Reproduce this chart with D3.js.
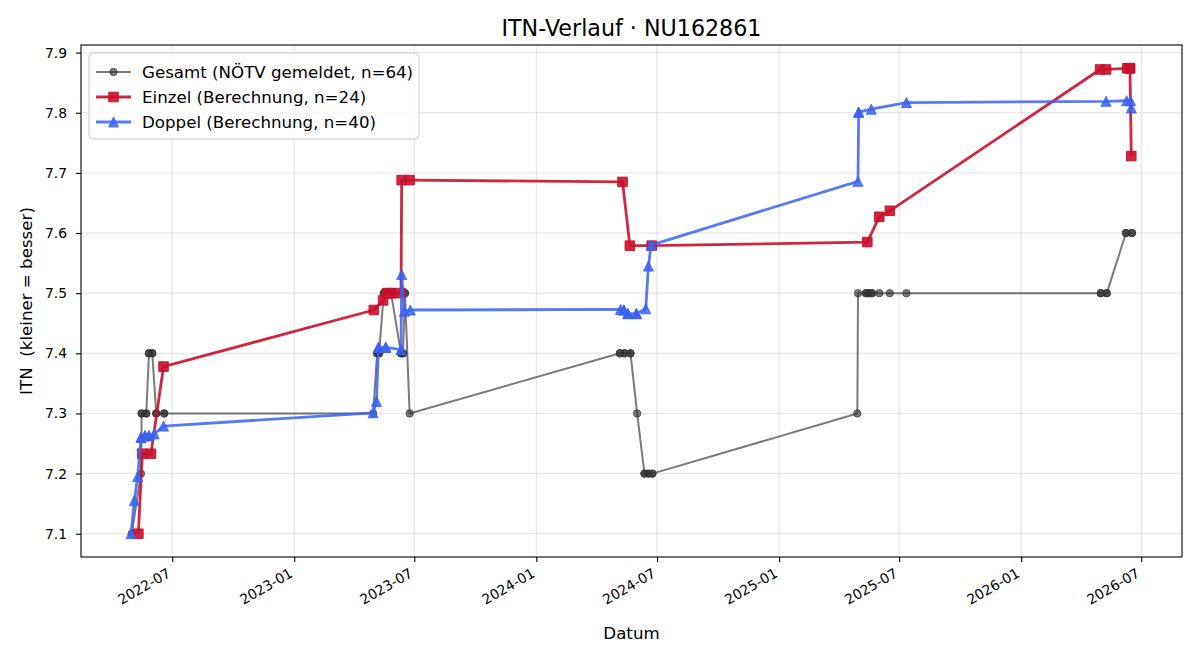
<!DOCTYPE html>
<html>
<head>
<meta charset="utf-8">
<script src="https://cdn.jsdelivr.net/npm/d3@7"></script>
<style>
    body { margin: 0; background: #fff; }
    svg, svg text { font-family: "DejaVu Sans", sans-serif; }
</style>
</head>
<body>
<div id="chart"></div>
<script>
// Gesamt (NÖTV gemeldet)
const gesamtDates = [
    "2022-05-01", "2022-05-15", "2022-05-16", "2022-05-16", "2022-05-23", "2022-05-23", "2022-05-27", "2022-05-27",
    "2022-06-01", "2022-06-01", "2022-06-07", "2022-06-07", "2022-06-19", "2022-06-19",
    "2023-04-30", "2023-05-06", "2023-05-06", "2023-05-09", "2023-05-09", "2023-05-16", "2023-05-16", "2023-05-21",
    "2023-05-21", "2023-05-27", "2023-05-27", "2023-06-11", "2023-06-11", "2023-06-14", "2023-06-14", "2023-06-17",
    "2023-06-17", "2023-06-24",
    "2024-05-06", "2024-05-06", "2024-05-13", "2024-05-13", "2024-05-22", "2024-05-22", "2024-06-01", "2024-06-12",
    "2024-06-12", "2024-06-18", "2024-06-18", "2024-06-24", "2024-06-24",
    "2025-04-29", "2025-04-30", "2025-05-12", "2025-05-12", "2025-05-16", "2025-05-16", "2025-05-21", "2025-05-21",
    "2025-06-01", "2025-06-17", "2025-07-12",
    "2026-05-01", "2026-05-01", "2026-05-10", "2026-05-10", "2026-06-08", "2026-06-08", "2026-06-17", "2026-06-17"
];
const gesamtValues = [
    7.1, 7.2, 7.3, 7.3, 7.3, 7.3, 7.4, 7.4,
    7.4, 7.4, 7.3, 7.3, 7.3, 7.3,
    7.3, 7.4, 7.4, 7.4, 7.4, 7.5, 7.5, 7.5,
    7.5, 7.5, 7.5, 7.4, 7.4, 7.4, 7.4, 7.5,
    7.5, 7.3,
    7.4, 7.4, 7.4, 7.4, 7.4, 7.4, 7.3, 7.2,
    7.2, 7.2, 7.2, 7.2, 7.2,
    7.3, 7.5, 7.5, 7.5, 7.5, 7.5, 7.5, 7.5,
    7.5, 7.5, 7.5,
    7.5, 7.5, 7.5, 7.5, 7.6, 7.6, 7.6, 7.6
];

// Einzel (Berechnung)
const einzelDates = [
    "2022-05-11", "2022-05-17", "2022-05-30", "2022-06-18",
    "2023-05-01", "2023-05-15", "2023-05-21", "2023-05-27", "2023-05-27", "2023-06-11", "2023-06-12", "2023-06-24",
    "2024-05-10", "2024-05-21", "2024-06-23",
    "2025-05-14", "2025-06-01", "2025-06-17",
    "2026-04-30", "2026-05-09", "2026-06-10", "2026-06-14", "2026-06-14", "2026-06-16"
];
const einzelValues = [
    7.1, 7.233, 7.233, 7.378,
    7.472, 7.488, 7.5, 7.5, 7.5, 7.5, 7.688, 7.688,
    7.685, 7.579, 7.579,
    7.585, 7.627, 7.637,
    7.872, 7.872, 7.874, 7.874, 7.874, 7.728
];

// Doppel (Berechnung)
const doppelDates = [
    "2022-04-30", "2022-05-05", "2022-05-10", "2022-05-15", "2022-05-15", "2022-05-21", "2022-05-21", "2022-05-27",
    "2022-05-27", "2022-06-04", "2022-06-18",
    "2023-04-30", "2023-05-05", "2023-05-08", "2023-05-08", "2023-05-19", "2023-05-19", "2023-06-11", "2023-06-12",
    "2023-06-16", "2023-06-25",
    "2024-05-07", "2024-05-12", "2024-05-12", "2024-05-18", "2024-05-18", "2024-05-31", "2024-05-31", "2024-06-14",
    "2024-06-18", "2024-06-22",
    "2025-04-30", "2025-05-01", "2025-05-01", "2025-05-20", "2025-07-12",
    "2026-05-09", "2026-06-09", "2026-06-15", "2026-06-16"
];
const doppelValues = [
    7.1, 7.155, 7.195, 7.26, 7.26, 7.263, 7.263, 7.263,
    7.263, 7.266, 7.279,
    7.301, 7.32, 7.41, 7.41, 7.41, 7.41, 7.406, 7.531,
    7.47, 7.472,
    7.473, 7.472, 7.472, 7.466, 7.466, 7.466, 7.466, 7.474,
    7.545, 7.58,
    7.686, 7.801, 7.801, 7.806, 7.817,
    7.819, 7.82, 7.82, 7.808
];

const seriesLabels = ["Gesamt (NÖTV gemeldet, n=64)", "Einzel (Berechnung, n=24)", "Doppel (Berechnung, n=40)"];
const yTicks = [7.1, 7.2, 7.3, 7.4, 7.5, 7.6, 7.7, 7.8, 7.9];
const xTicks = ["2022-07-01", "2023-01-01", "2023-07-01", "2024-01-01", "2024-07-01", "2025-01-01", "2025-07-01", "2026-01-01", "2026-07-01"];

const chartTitle = "ITN-Verlauf · NU162861";
const xLabel = "Datum";
const yLabel = "ITN  (kleiner = besser)";

class ItnChart {

    constructor(_config, _series) {
        this.config = {
            parentElement: _config.parentElement,
            containerWidth: _config.containerWidth || 1200,
            containerHeight: _config.containerHeight || 660,
            margin: _config.margin || { top: 45, right: 18, bottom: 103, left: 81 }
        };
        this.series = _series;
        this.initVis();
    }

    initVis() {
        let vis = this;

        vis.width = vis.config.containerWidth - vis.config.margin.left - vis.config.margin.right;
        vis.height = vis.config.containerHeight - vis.config.margin.top - vis.config.margin.bottom;

        vis.svg = d3.select(vis.config.parentElement)
            .append('svg')
            .attr('width', vis.config.containerWidth)
            .attr('height', vis.config.containerHeight);

        vis.chart = vis.svg.append('g')
            .attr('transform', `translate(${vis.config.margin.left},${vis.config.margin.top})`);

        vis.renderVis();
    }

    renderVis() {
        let vis = this;
        const parseDate = d3.timeParse("%Y-%m-%d");

        vis.series.forEach(s => {
            s.points = s.dates.map((d, i) => ({ date: parseDate(d), value: s.values[i] }));
        });
        const allPoints = vis.series.flatMap(s => s.points);

        // matplotlib style 5% padding
        const xExt = d3.extent(allPoints, d => d.date);
        const xPad = (xExt[1] - xExt[0]) * 0.05;
        const xScale = d3.scaleTime()
            .domain([new Date(+xExt[0] - xPad), new Date(+xExt[1] + xPad)])
            .range([0, vis.width]);

        const yExt = d3.extent(allPoints, d => d.value);
        const yPad = (yExt[1] - yExt[0]) * 0.05;
        const yScale = d3.scaleLinear()
            .domain([yExt[0] - yPad, yExt[1] + yPad])
            .range([vis.height, 0]);

        const xTickDates = xTicks.map(parseDate);

        // grid
        vis.chart.append('g')
            .selectAll('line')
            .data(xTickDates)
            .join('line')
            .attr('x1', d => xScale(d)).attr('x2', d => xScale(d))
            .attr('y1', 0).attr('y2', vis.height)
            .attr('stroke', '#b0b0b0').attr('stroke-opacity', 0.35).attr('stroke-width', 1);

        vis.chart.append('g')
            .selectAll('line')
            .data(yTicks)
            .join('line')
            .attr('x1', 0).attr('x2', vis.width)
            .attr('y1', d => yScale(d)).attr('y2', d => yScale(d))
            .attr('stroke', '#b0b0b0').attr('stroke-opacity', 0.35).attr('stroke-width', 1);

        // series
        vis.series.forEach(s => {
            const line = d3.line()
                .x(d => xScale(d.date))
                .y(d => yScale(d.value));

            vis.chart.append('path')
                .datum(s.points)
                .attr('fill', 'none')
                .attr('stroke', s.color)
                .attr('stroke-opacity', s.alpha)
                .attr('stroke-width', s.lineWidth)
                .attr('stroke-linejoin', 'round')
                .attr('d', line);

            vis.chart.append('g')
                .selectAll('path')
                .data(s.points)
                .join('path')
                .attr('transform', d => `translate(${xScale(d.date)},${yScale(d.value)})`)
                .attr('d', markerPath(s.marker))
                .attr('fill', s.color)
                .attr('fill-opacity', s.alpha)
                .attr('stroke', s.color)
                .attr('stroke-opacity', s.alpha)
                .attr('stroke-width', 1);
        });

        // axes
        const xAxis = d3.axisBottom(xScale)
            .tickValues(xTickDates)
            .tickFormat(d3.timeFormat("%Y-%m"))
            .tickSize(5);
        const yAxis = d3.axisLeft(yScale)
            .tickValues(yTicks)
            .tickFormat(d3.format(".1f"))
            .tickSize(5)
            .tickPadding(9);

        const gx = vis.chart.append('g')
            .attr('transform', `translate(0,${vis.height})`)
            .call(xAxis)
            .attr('font-family', null)
            .attr('font-size', null);
        gx.select('.domain').remove();
        gx.selectAll('line').attr('stroke', '#000').attr('stroke-width', 1.1);
        gx.selectAll('text')
            .attr('font-size', 13.9)
            .attr('fill', '#000')
            .attr('text-anchor', 'end')
            .attr('y', 0).attr('dy', 0)
            .attr('transform', 'translate(-1,19) rotate(-30)');

        const gy = vis.chart.append('g')
            .call(yAxis)
            .attr('font-family', null)
            .attr('font-size', null);
        gy.select('.domain').remove();
        gy.selectAll('line').attr('stroke', '#000').attr('stroke-width', 1.1);
        gy.selectAll('text').attr('font-size', 13.9).attr('fill', '#000');

        // frame
        vis.chart.append('rect')
            .attr('width', vis.width)
            .attr('height', vis.height)
            .attr('fill', 'none')
            .attr('stroke', '#000')
            .attr('stroke-width', 1.1);

        // labels
        vis.svg.append('text')
            .attr('x', vis.config.margin.left + vis.width / 2)
            .attr('y', 36)
            .attr('text-anchor', 'middle')
            .attr('font-size', 22.2)
            .text(chartTitle);

        vis.svg.append('text')
            .attr('x', vis.config.margin.left + vis.width / 2)
            .attr('y', 639)
            .attr('text-anchor', 'middle')
            .attr('font-size', 16.67)
            .text(xLabel);

        vis.svg.append('text')
            .attr('transform', `translate(32,${vis.config.margin.top + vis.height / 2}) rotate(-90)`)
            .attr('text-anchor', 'middle')
            .attr('font-size', 16.67)
            .style('white-space', 'pre')
            .text(yLabel);

        // legend
        const legend = vis.chart.append('g')
            .attr('transform', 'translate(8,8)');
        legend.append('rect')
            .attr('width', 330)
            .attr('height', 86)
            .attr('rx', 4)
            .attr('fill', '#fff')
            .attr('fill-opacity', 0.8)
            .attr('stroke', '#cccccc')
            .attr('stroke-width', 1);

        vis.series.forEach((s, i) => {
            const row = legend.append('g')
                .attr('transform', `translate(0,${19 + i * 25})`);
            row.append('line')
                .attr('x1', 7).attr('x2', 42)
                .attr('stroke', s.color)
                .attr('stroke-opacity', s.alpha)
                .attr('stroke-width', s.lineWidth);
            row.append('path')
                .attr('transform', 'translate(24.5,0)')
                .attr('d', markerPath(s.marker))
                .attr('fill', s.color)
                .attr('fill-opacity', s.alpha)
                .attr('stroke', s.color)
                .attr('stroke-opacity', s.alpha)
                .attr('stroke-width', 1);
            row.append('text')
                .attr('x', 53)
                .attr('y', 6)
                .attr('font-size', 16.67)
                .text(s.label);
        });
    }
}

function markerPath(type) {
    if (type === 'circle') {
        const r = 3.7;
        return `M${r},0A${r},${r} 0 1,1 ${-r},0A${r},${r} 0 1,1 ${r},0Z`;
    }
    if (type === 'square') {
        const h = 4.8;
        return `M${-h},${-h}H${h}V${h}H${-h}Z`;
    }
    const t = 5;
    return `M0,${-t}L${t},${t}L${-t},${t}Z`;
}

const series = [
    { label: seriesLabels[0], dates: gesamtDates, values: gesamtValues, color: '#333333', alpha: 0.65, lineWidth: 2, marker: 'circle' },
    { label: seriesLabels[1], dates: einzelDates, values: einzelValues, color: '#c8102e', alpha: 0.9, lineWidth: 2.8, marker: 'square' },
    { label: seriesLabels[2], dates: doppelDates, values: doppelValues, color: '#3a62f2', alpha: 0.85, lineWidth: 2.8, marker: 'triangle' }
];

new ItnChart({ parentElement: '#chart' }, series);
</script>
</body>
</html>
